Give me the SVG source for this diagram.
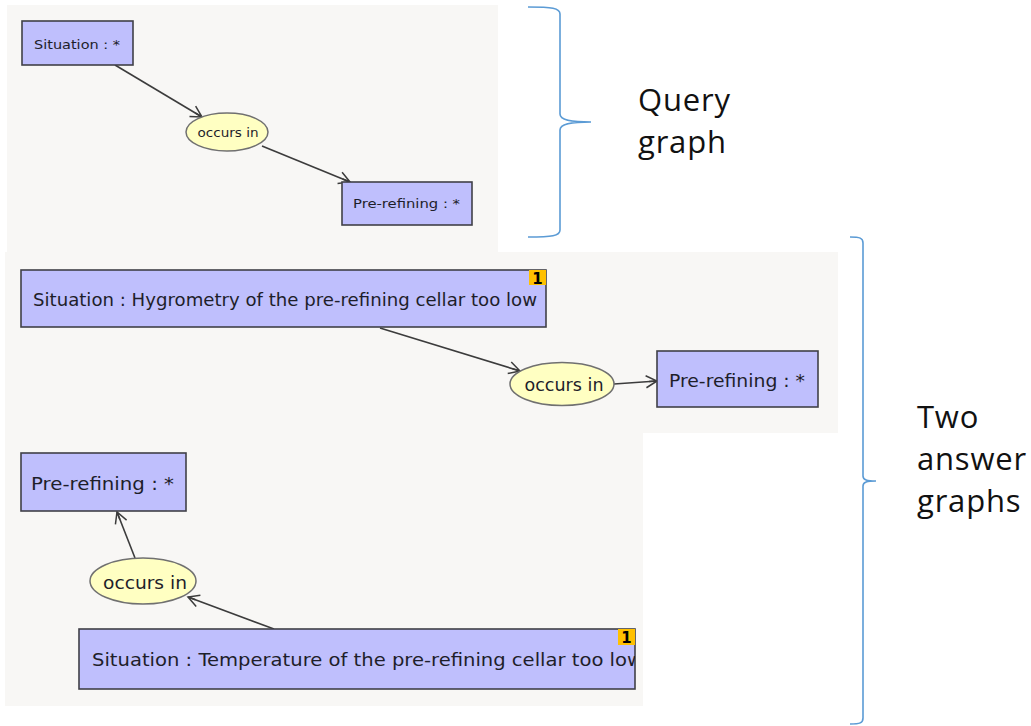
<svg xmlns="http://www.w3.org/2000/svg" width="1031" height="726" viewBox="0 0 1031 726">
<style>
.panel{fill:#f8f7f5}
.box{fill:#bfbffd;stroke:#404048;stroke-width:1.6}
.rel{fill:#ffffc2;stroke:#707070;stroke-width:1.5}
.badge{fill:#ffc000}
.t{font-family:"DejaVu Sans",sans-serif;fill:#1e1e2a}
.edge{stroke:#3c3c3c;stroke-width:1.6;fill:none}
.brace{stroke:#5b9bd5;stroke-width:1.6;fill:none}
.lbl{font-family:"Open Sans",sans-serif;font-size:31px;fill:#111;letter-spacing:0.8px}
.bt{font-family:"DejaVu Sans",sans-serif;font-weight:bold;font-size:15px;fill:#000}
</style>
<defs>
<marker id="arr" markerUnits="userSpaceOnUse" markerWidth="16" markerHeight="16" refX="14" refY="8" orient="auto">
<path d="M3,2 L14,8 L3,14 M14,8 L6,8" fill="none" stroke="#3c3c3c" stroke-width="1.5"/>
</marker>
<clipPath id="clipS2"><rect x="79" y="629" width="556" height="60"/></clipPath>
</defs>
<rect width="1031" height="726" fill="#ffffff"/>
<g id="panels">
<rect class="panel" x="7" y="5" width="491" height="248"/>
<rect class="panel" x="5" y="252" width="833" height="181"/>
<rect class="panel" x="5" y="433" width="638" height="273"/>
</g>
<g id="connectors">
<line class="edge" x1="115" y1="65" x2="202" y2="117" marker-end="url(#arr)"/>
<line class="edge" x1="262" y1="146" x2="350" y2="182" marker-end="url(#arr)"/>
<line class="edge" x1="380" y1="328" x2="520" y2="371" marker-end="url(#arr)"/>
<line class="edge" x1="614" y1="384" x2="657" y2="381" marker-end="url(#arr)"/>
<line class="edge" x1="135" y1="558" x2="117" y2="512" marker-end="url(#arr)"/>
<line class="edge" x1="274" y1="629" x2="188" y2="597" marker-end="url(#arr)"/>
</g>
<g id="q-situation">
<rect class="box" x="22" y="21" width="111" height="44"/>
<text class="t" x="34" y="49" font-size="12" textLength="86" lengthAdjust="spacingAndGlyphs">Situation : *</text>
</g>
<g id="q-occurs">
<ellipse class="rel" cx="227" cy="132" rx="41" ry="19"/>
<text class="t" x="228" y="137" font-size="12" text-anchor="middle" textLength="61" lengthAdjust="spacingAndGlyphs">occurs in</text>
</g>
<g id="q-prerefining">
<rect class="box" x="342" y="182" width="130" height="43"/>
<text class="t" x="353" y="208" font-size="12" textLength="107" lengthAdjust="spacingAndGlyphs">Pre-refining : *</text>
</g>
<g id="a1-situation">
<rect class="box" x="21" y="270" width="525" height="57"/>
<rect class="badge" x="529" y="270" width="17" height="15"/>
<text class="bt" x="537.5" y="284" text-anchor="middle">1</text>
<text class="t" x="33" y="306" font-size="17" textLength="504" lengthAdjust="spacingAndGlyphs">Situation : Hygrometry of the pre-refining cellar too low</text>
</g>
<g id="a1-occurs">
<ellipse class="rel" cx="562" cy="384" rx="52" ry="21.5"/>
<text class="t" x="564" y="391" font-size="17" text-anchor="middle" textLength="79" lengthAdjust="spacingAndGlyphs">occurs in</text>
</g>
<g id="a1-prerefining">
<rect class="box" x="657" y="351" width="161" height="56"/>
<text class="t" x="669" y="387" font-size="17" textLength="136" lengthAdjust="spacingAndGlyphs">Pre-refining : *</text>
</g>
<g id="a2-prerefining">
<rect class="box" x="21" y="453" width="165" height="58"/>
<text class="t" x="31" y="490" font-size="18" textLength="143" lengthAdjust="spacingAndGlyphs">Pre-refining : *</text>
</g>
<g id="a2-occurs">
<ellipse class="rel" cx="143" cy="581" rx="53" ry="23"/>
<text class="t" x="145" y="589" font-size="18" text-anchor="middle" textLength="84" lengthAdjust="spacingAndGlyphs">occurs in</text>
</g>
<g id="a2-situation">
<rect class="box" x="79" y="629" width="556" height="60"/>
<text class="t" x="92" y="666" font-size="18" clip-path="url(#clipS2)" textLength="551" lengthAdjust="spacingAndGlyphs">Situation : Temperature of the pre-refining cellar too low</text>
<rect class="badge" x="618" y="629" width="17" height="16"/>
<text class="bt" x="626.5" y="643" text-anchor="middle">1</text>
</g>
<g id="query-brace">
<path class="brace" d="M528,7 C552,7 560,8 560,14 L560,114 C560,120 570,122 591,122 C570,122 560,124 560,130 L560,230 C560,236 552,237 528,237"/>
<text class="lbl" x="638" y="111">Query</text>
<text class="lbl" x="638" y="153">graph</text>
</g>
<g id="answer-brace">
<path class="brace" d="M850,237 C860,237 863,238 863,243 L863,476 C863,480 867,481 876,481 C867,481 863,482 863,486 L863,718 C863,723 860,724 850,724"/>
<text class="lbl" x="917" y="428">Two</text>
<text class="lbl" x="917" y="470">answer</text>
<text class="lbl" x="917" y="512">graphs</text>
</g>
</svg>
